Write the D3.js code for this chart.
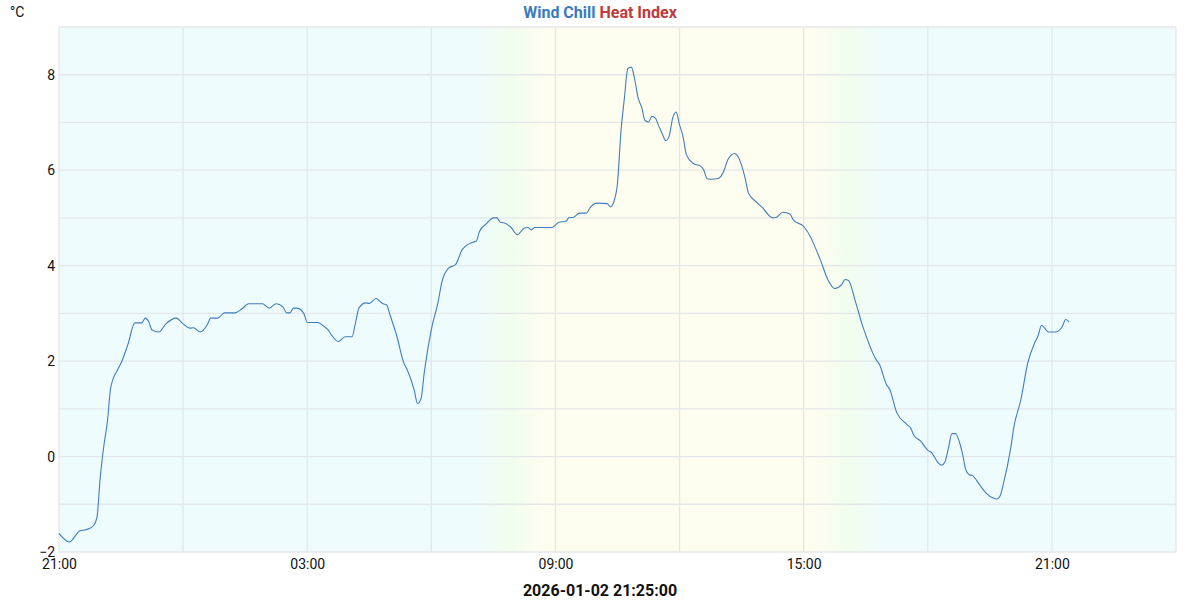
<!DOCTYPE html>
<html>
<head>
<meta charset="utf-8">
<script src="https://cdn.jsdelivr.net/npm/d3@7"></script>
<style>
  html, body { margin: 0; padding: 0; background: #ffffff; }
  svg { display: block; font-family: Roboto, "Noto Sans", sans-serif; }
</style>
</head>
<body>
<svg id="chart" width="1200" height="600"></svg>
<script>
// ---- data ----
const startDate = "2026-01-01";
const times = [
  "21:00","21:15","21:30","21:40","21:50","21:55","22:00","22:05","22:10","22:15","22:25","22:30","22:40","22:50",
  "23:00","23:05","23:10","23:15","23:25","23:35","23:50","00:00","00:10","00:15","00:25","00:35","00:40","00:50",
  "01:00","01:15","01:25","01:35","01:55","02:05","02:15","02:25","02:30","02:35","02:40","02:45","02:55","03:00",
  "03:15","03:25","03:30","03:35","03:45","03:55","04:05","04:10","04:15","04:25","04:30","04:40","04:50","04:55",
  "05:00","05:10","05:20","05:25","05:35","05:40","05:45","05:50","06:00","06:10","06:15","06:25","06:35","06:45",
  "07:00","07:05","07:10","07:20","07:30","07:35","07:40","07:45","07:55","08:05","08:15","08:20","08:25","08:30",
  "08:55","09:05","09:15","09:20","09:25","09:35","09:45","09:50","10:00","10:15","10:20","10:25","10:30","10:35",
  "10:40","10:45","10:50","10:55","11:00","11:05","11:10","11:15","11:20","11:25","11:30","11:35","11:40","11:45",
  "11:50","11:55","12:00","12:05","12:10","12:20","12:30","12:35","12:40","12:45","12:55","13:00","13:05","13:10",
  "13:20","13:25","13:35","13:40","13:50","14:00","14:15","14:20","14:30","14:40","14:45","15:00","15:10","15:15",
  "15:25","15:35","15:45","15:55","16:00","16:05","16:15","16:25","16:30","16:45","16:50","17:00","17:05","17:15",
  "17:30","17:35","17:40","17:50","18:00","18:05","18:15","18:20","18:25","18:30","18:35","18:40","18:50","18:55",
  "19:00","19:05","19:15","19:25","19:35","19:40","19:45","19:50","20:00","20:05","20:15","20:25","20:35","20:40",
  "20:45","20:50","20:55","21:05","21:15","21:20","21:25"
];
const windChill = [
  -1.61,-1.79,-1.56,-1.53,-1.45,-1.28,-0.41,0.22,0.71,1.44,1.82,1.96,2.35,2.80,
  2.80,2.90,2.83,2.65,2.61,2.78,2.90,2.78,2.69,2.70,2.61,2.76,2.90,2.90,
  3.01,3.01,3.09,3.20,3.20,3.11,3.20,3.13,3.01,3.01,3.11,3.11,3.00,2.81,
  2.81,2.72,2.66,2.55,2.41,2.51,2.51,2.80,3.11,3.22,3.21,3.31,3.20,3.18,
  2.97,2.52,1.96,1.82,1.40,1.11,1.21,1.79,2.66,3.25,3.64,3.95,4.02,4.34,
  4.49,4.51,4.72,4.88,5.00,5.00,4.91,4.90,4.81,4.65,4.79,4.80,4.75,4.80,
  4.80,4.91,4.93,5.01,5.01,5.10,5.10,5.21,5.31,5.30,5.23,5.35,5.73,6.81,
  7.51,8.13,8.16,7.90,7.51,7.32,7.04,7.01,7.13,7.09,6.92,6.76,6.62,6.72,
  7.09,7.22,6.95,6.71,6.32,6.14,6.09,6.01,5.82,5.81,5.82,5.87,6.01,6.22,
  6.35,6.28,5.84,5.52,5.35,5.22,5.00,5.01,5.12,5.08,4.96,4.82,4.60,4.44,
  4.09,3.71,3.52,3.60,3.71,3.69,3.25,2.76,2.55,2.03,1.93,1.51,1.40,0.92,
  0.67,0.60,0.44,0.32,0.13,0.09,-0.13,-0.18,-0.11,0.18,0.48,0.48,0.08,-0.27,
  -0.38,-0.40,-0.59,-0.77,-0.87,-0.89,-0.82,-0.55,0.15,0.63,1.19,1.96,2.38,2.53,
  2.75,2.68,2.61,2.61,2.72,2.87,2.82
];
const yTicks = [-2, 0, 2, 4, 6, 8];
const xTickLabels = ["21:00", "03:00", "09:00", "15:00", "21:00"];
const titleParts = ["Wind Chill", "Heat Index"];
const unitLabel = "°C";
const footerLabel = "2026-01-02 21:25:00";
// day/night background transitions (clock times on day 2)
const sunriseBand = ["07:05", "07:55", "08:45"];
const sunsetBand = ["15:15", "16:05", "16:55"];

// ---- build parsed data ----
const parse = d3.timeParse("%Y-%m-%d %H:%M");
const base = parse(startDate + " 00:00");
let dayOffset = 0, prev = -1;
const data = times.map((t, i) => {
  const [h, m] = t.split(":").map(Number);
  const mins = h * 60 + m;
  if (mins < prev) dayOffset += 1;
  prev = mins;
  return { date: d3.timeMinute.offset(d3.timeDay.offset(base, dayOffset), mins), v: windChill[i] };
});
const day2 = d3.timeDay.offset(base, 1);
const clock = (s, day) => { const [h, m] = s.split(":").map(Number); return d3.timeMinute.offset(day, h * 60 + m); };

// ---- layout ----
const svg = d3.select("#chart");
const margin = { left: 59, right: 24, top: 27, bottom: 48 };
const W = 1200, H = 600;
const x = d3.scaleTime()
  .domain([parse("2026-01-01 21:00"), parse("2026-01-03 00:00")])
  .range([margin.left, W - margin.right]);
const y = d3.scaleLinear().domain([-2, 9]).range([H - margin.bottom, margin.top]);

// background gradient
const defs = svg.append("defs");
const grad = defs.append("linearGradient").attr("id", "bg")
  .attr("gradientUnits", "userSpaceOnUse")
  .attr("x1", x.range()[0]).attr("x2", x.range()[1]).attr("y1", 0).attr("y2", 0);
const cyan = "#effcfd", green = "#f1fdee", yellow = "#fefdf0";
const pos = d => (x(d) - x.range()[0]) / (x.range()[1] - x.range()[0]);
const stops = [
  [0, cyan],
  [pos(clock(sunriseBand[0], day2)), cyan],
  [pos(clock(sunriseBand[1], day2)), green],
  [pos(clock(sunriseBand[2], day2)), yellow],
  [pos(clock(sunsetBand[0], day2)), yellow],
  [pos(clock(sunsetBand[1], day2)), green],
  [pos(clock(sunsetBand[2], day2)), cyan],
  [1, cyan]
];
stops.forEach(([o, c]) => grad.append("stop").attr("offset", o).attr("stop-color", c));

svg.append("rect")
  .attr("x", x.range()[0]).attr("y", y.range()[1])
  .attr("width", x.range()[1] - x.range()[0]).attr("height", y.range()[0] - y.range()[1])
  .attr("fill", "url(#bg)");

// grid
const gridColor = "#e4e7ea";
const hGrid = d3.range(-2, 10, 1);
svg.append("g").selectAll("line").data(hGrid).join("line")
  .attr("x1", x.range()[0]).attr("x2", x.range()[1])
  .attr("y1", d => y(d)).attr("y2", d => y(d))
  .attr("stroke", gridColor).attr("stroke-width", 1.3);
const vGrid = d3.timeHour.every(3).range(x.domain()[0], d3.timeMinute.offset(x.domain()[1], 1));
svg.append("g").selectAll("line").data(vGrid).join("line")
  .attr("x1", d => x(d)).attr("x2", d => x(d))
  .attr("y1", y.range()[0]).attr("y2", y.range()[1])
  .attr("stroke", gridColor).attr("stroke-width", 1.3);

// y axis labels
const yAxis = d3.axisLeft(y).tickValues(yTicks).tickSize(0).tickPadding(4).tickFormat(d3.format("d"));
const gy = svg.append("g").attr("transform", `translate(${margin.left},0)`).call(yAxis);
gy.select(".domain").remove();
gy.selectAll("text").attr("font-size", 14).attr("fill", "#111").attr("font-family", "Roboto, sans-serif");

// x axis labels
const xTicks = xTickLabels.map((s, i) => d3.timeHour.offset(x.domain()[0], i * 6));
const xAxis = d3.axisBottom(x).tickValues(xTicks).tickSize(0).tickPadding(7)
  .tickFormat((d, i) => xTickLabels[i]);
const gx = svg.append("g").attr("transform", `translate(0,${y.range()[0]})`).call(xAxis);
gx.select(".domain").remove();
gx.selectAll("text").attr("font-size", 14).attr("fill", "#111").attr("font-family", "Roboto, sans-serif");

// line
const line = d3.line().x(d => x(d.date)).y(d => y(d.v)).curve(d3.curveMonotoneX);
svg.append("path").datum(data)
  .attr("d", line).attr("fill", "none")
  .attr("stroke", "#3f7ebd").attr("stroke-width", 1.1);

// title
const title = svg.append("text").attr("x", 600).attr("y", 18)
  .attr("text-anchor", "middle").attr("font-size", 16).attr("font-weight", "bold");
title.append("tspan").text(titleParts[0]).attr("fill", "#3a7bbf");
title.append("tspan").text(" " + titleParts[1]).attr("fill", "#bf3a3a");

// unit
svg.append("text").attr("x", 10).attr("y", 17).attr("font-size", 14).attr("fill", "#111").text(unitLabel);

// footer
svg.append("text").attr("x", 600).attr("y", 596).attr("text-anchor", "middle")
  .attr("font-size", 16).attr("font-weight", "bold").attr("fill", "#111").text(footerLabel);
</script>
</body>
</html>
